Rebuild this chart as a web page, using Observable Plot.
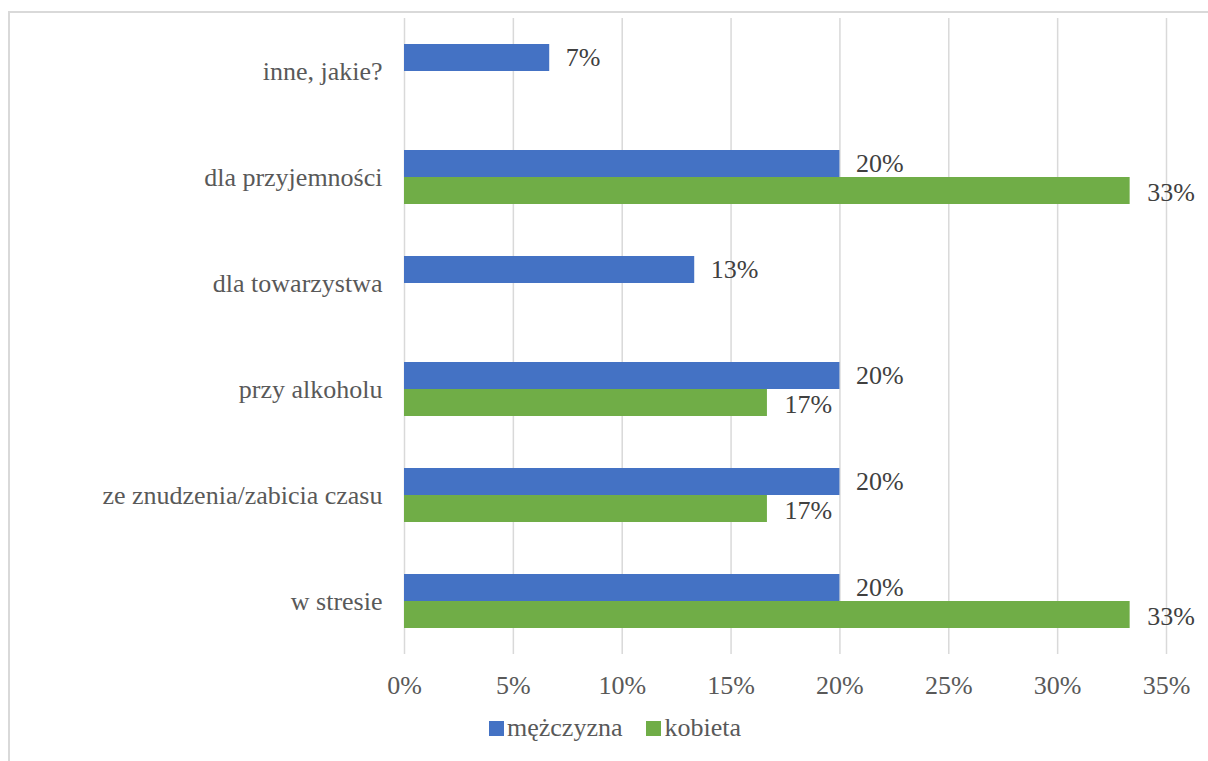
<!DOCTYPE html>
<html>
<head>
<meta charset="utf-8">
<script src="https://cdn.jsdelivr.net/npm/d3@7"></script>
<script src="https://cdn.jsdelivr.net/npm/@observablehq/plot@0.6"></script>
<style>
 .serif { font-family: 'Liberation Serif', Tinos, 'DejaVu Serif', serif; }
</style>
</head>
<body class="serif" style="margin:0; font-family:'Liberation Serif', Tinos, serif;">
<div style="position:absolute; left:8px; top:11px; width:1210px; height:760px; border-left:2px solid #d9d9d9; border-top:2px solid #d9d9d9;"></div>
<div id="chart" class="serif" style="position:absolute; left:0; top:0;"></div>
<div id="legend" class="serif" style="position:absolute; left:489px; top:713px; font-size:26px; line-height:30px; color:#595959; white-space:nowrap;"></div>
<script>
// Data (top to bottom)
const categories = ["inne, jakie?", "dla przyjemności", "dla towarzystwa", "przy alkoholu", "ze znudzenia/zabicia czasu", "w stresie"];
const seriesNames = ["mężczyzna", "kobieta"];
const menValues = [6.67, 20, 13.33, 20, 20, 20];
const womenValues = [null, 33.33, null, 16.67, 16.67, 33.33];
const xTicks = [0, 5, 10, 15, 20, 25, 30, 35];
const colors = ["#4472C4", "#70AD47"];

const men = categories.map((c, i) => ({category: c, value: menValues[i]})).filter(d => d.value != null);
const women = categories.map((c, i) => ({category: c, value: womenValues[i]})).filter(d => d.value != null);
const fmt = d => Math.round(d.value) + "%";
const FONT = "'Liberation Serif', Tinos, serif";

const plot = Plot.plot({
  width: 1208,
  height: 700,
  marginLeft: 404,
  marginRight: 42,
  marginTop: 18,
  marginBottom: 46,
  style: {fontFamily: FONT, fontSize: "26px", color: "#595959"},
  x: {domain: [0, 35], ticks: xTicks, tickFormat: d => d + "%", tickSize: 0, tickPadding: 21, label: null},
  y: {domain: categories, padding: 0, tickSize: 0, tickPadding: 22, label: null},
  marks: [
    Plot.ruleX(xTicks, {stroke: "#d9d9d9", strokeWidth: 1.5}),
    Plot.barX(men, {x: "value", y: "category", fill: colors[0], insetTop: 26, insetBottom: 53}),
    Plot.barX(women, {x: "value", y: "category", fill: colors[1], insetTop: 53, insetBottom: 26}),
    Plot.text(men, {x: "value", y: "category", text: fmt, dx: 16, dy: -13.5, textAnchor: "start", fill: "#404040", fontSize: 26, fontFamily: FONT}),
    Plot.text(women, {x: "value", y: "category", text: fmt, dx: 17, dy: 15, textAnchor: "start", fill: "#404040", fontSize: 26, fontFamily: FONT})
  ]
});
document.getElementById("chart").appendChild(plot);

const legend = document.getElementById("legend");
seriesNames.forEach((name, i) => {
  const sw = document.createElement("span");
  sw.style.cssText = "display:inline-block; width:15px; height:15px; margin-right:3px; background:" + colors[i] + ";";
  legend.appendChild(sw);
  const label = document.createElement("span");
  label.className = "serif";
  label.style.marginRight = (i === 0 ? 24 : 0) + "px";
  label.textContent = name;
  legend.appendChild(label);
});
</script>
</body>
</html>
